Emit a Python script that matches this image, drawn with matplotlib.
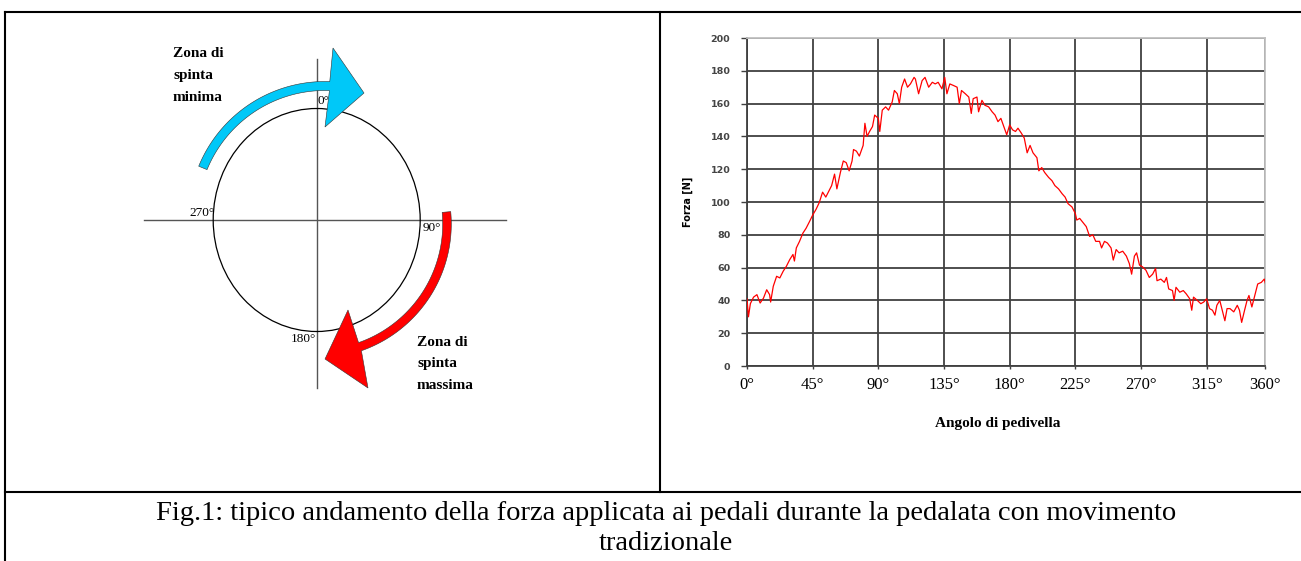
import numpy as np
import matplotlib
matplotlib.use("Agg")
import matplotlib.pyplot as plt
from matplotlib.patches import Ellipse, Polygon

# angolo di pedivella (gradi) e forza [N]
angolo = [0, 1, 2.3, 4.5, 6.8, 9, 11.3, 13.5, 15.5, 16.2, 18, 20.3, 22.5, 24.8, 27, 29.3,
          31.5, 32.5, 33.8, 36, 38.3, 40.5, 42.8, 45, 47.3, 49.5, 51.8, 54, 56.3,
          58, 60, 61.6, 64, 66, 68, 70, 72, 73, 75, 77, 79.6, 80.8, 82.3, 84, 86, 87.5,
          90, 91, 92.7, 95, 97, 99.5, 101, 103, 104.4, 106, 108, 110, 112, 114.5,
          115.4, 117.6, 120, 122, 124.5, 127, 129, 131, 133.6, 135.5, 137, 139, 141.6,
          144, 145.5, 147, 149.6, 152, 153.7, 155, 157.6, 158.7, 161, 163, 165.6, 168,
          170, 172, 174, 176, 178, 180, 182, 184, 185.7, 188, 190, 192, 194, 196, 198.7,
          200, 202, 204, 206.7, 209, 211, 213.5, 216, 218, 220, 222.7, 225, 226, 228,
          230.7, 232.5, 234.8, 237, 239, 241.6, 243, 245, 247, 249.5, 251, 253, 255,
          257.5, 260, 262, 263.6, 265.5, 267, 269, 271, 273.4, 275.7, 278, 280, 281,
          283.6, 286, 287.5, 289, 291.6, 292.7, 294, 296.6, 299, 301, 303.4, 304.8, 306,
          308.6, 311, 313, 315, 317, 319, 320.7, 322, 324, 325.7, 327.5, 329, 331, 333.6,
          336, 337.5, 339, 341, 342.7, 344, 346, 348, 350, 352.5, 354.5, 355.7]
forza = [41, 30, 38, 42, 43.5, 38.4, 41.4, 46.5, 43.5, 39, 48.6, 54.7, 53.7, 57.8, 60.8, 64.9,
         68, 64, 72, 76, 81, 84, 88, 92, 95.5, 99.6, 106, 103, 107,
         110, 117, 108, 118, 125, 124, 119, 125, 132, 131, 128, 134.5, 148, 140, 143, 146, 153,
         151, 143, 156, 158, 156, 161, 168, 166, 160, 170, 175, 170, 172, 176,
         175, 166, 174, 176, 170, 173, 172, 173, 169, 176, 166, 172, 171,
         170, 160, 168, 166, 164, 154, 163, 164, 155, 162, 159, 158, 155,
         153, 149, 151, 146, 141, 147, 144, 143, 145, 142, 139, 130, 134.5, 130, 127,
         119, 121, 118, 115, 113, 110, 108, 105, 103, 99, 97, 93, 89, 90,
         87, 85, 79, 80, 76, 76, 72, 76, 75, 72, 64.6, 71, 69,
         70, 67, 62.5, 56, 67, 69, 61.5, 60.5, 58.4, 54, 56, 59.5, 52,
         53, 51, 54, 47, 46, 40, 48, 45, 46, 44, 41, 34, 42,
         40, 38, 39, 41, 35, 34, 31, 37, 40, 34, 27.6, 35, 35, 33,
         37, 34, 26.6, 34, 40, 43, 36, 43, 50, 51, 53, 49]

tick_gradi = [0, 45, 90, 135, 180, 225, 270, 315, 355]
tick_etichette = ["0°", "45°", "90°", "135°", "180°", "225°", "270°", "315°", "360°"]
tick_forza = list(range(0, 201, 20))

W, H = 1301, 561
fig = plt.figure(figsize=(W / 100, H / 100), dpi=100)
fig.patch.set_facecolor("white")

# sfondo in coordinate pixel: bordi tabella, schema del pedale, didascalia
bg = fig.add_axes([0, 0, 1, 1])
bg.set_xlim(0, W)
bg.set_ylim(H, 0)
bg.axis("off")

lw_bordo = 1.5
bg.plot([5, W], [12, 12], color="black", lw=lw_bordo)
bg.plot([5, 5], [12, H], color="black", lw=lw_bordo)
bg.plot([660, 660], [12, 492], color="black", lw=lw_bordo)
bg.plot([5, W], [492, 492], color="black", lw=lw_bordo)

serif = "Liberation Serif"

# cerchio e assi
bg.plot([144, 506], [220, 220], color="#555555", lw=1, zorder=1)
bg.plot([317, 317], [59, 388], color="#555555", lw=1, zorder=1)
bg.add_patch(Ellipse((316.7, 220), 207, 223, fill=False, edgecolor="black", lw=0.9, zorder=2))


def freccia(cx, cy, r_in, r_out, a0, a1, testa, colore):
    t = np.radians(np.linspace(a0, a1, 60))
    est = np.column_stack([cx + r_out * np.cos(t), cy - r_out * np.sin(t)])
    inn = np.column_stack([cx + r_in * np.cos(t), cy - r_in * np.sin(t)])[::-1]
    pts = np.vstack([est, testa, inn])
    bg.add_patch(Polygon(pts, closed=True, facecolor=colore, edgecolor="#333333",
                         lw=0.4, zorder=3))


freccia(325, 218, 127.5, 136.5, 157.7, 88, [[333, 48], [364, 93], [325, 127]], "#00c8f8")
freccia(317, 224, 125.7, 134.3, 5.3, -70.7, [[368, 388], [325, 359], [348, 310]], "#ff0000")

bg.text(318, 101, "0°", fontsize=9.5, family=serif, va="center", ha="left", zorder=4)
bg.text(215, 213, "270°", fontsize=9.5, family=serif, va="center", ha="right", zorder=4)
bg.text(423, 228, "90°", fontsize=9.5, family=serif, va="center", ha="left", zorder=4)
bg.text(316, 339, "180°", fontsize=9.5, family=serif, va="center", ha="right", zorder=4)

for i, riga in enumerate(["Zona di", "spinta", "minima"]):
    bg.text(173, 53 + 22 * i, riga, fontsize=11, family=serif, weight="bold", va="center")
for i, riga in enumerate(["Zona di", "spinta", "massima"]):
    bg.text(417, 342 + 21.5 * i, riga, fontsize=11, family=serif, weight="bold", va="center")

bg.text(666, 513, "Fig.1: tipico andamento della forza applicata ai pedali durante la pedalata con movimento",
        fontsize=20.5, family=serif, ha="center", va="center")
bg.text(666, 543, "tradizionale", fontsize=20.5, family=serif, ha="center", va="center")

# grafico della forza
ax = fig.add_axes([747 / W, 1 - 366 / H, 518 / W, 328 / H])
ax.plot(angolo, forza, color="#ff0000", lw=0.9, zorder=3)
ax.set_xlim(0, 355)
ax.set_ylim(0, 200)
ax.set_xticks(tick_gradi)
ax.set_xticklabels(tick_etichette, family=serif, fontsize=12)
ax.set_yticks(tick_forza)
ax.set_yticklabels([str(v) for v in tick_forza], family="DejaVu Sans", fontsize=6.8,
                   weight="bold", color="#444444")
ax.grid(True, color="#404040", lw=1.3, zorder=1)
ax.tick_params(axis="y", length=4, width=1, color="#404040", pad=8)
ax.tick_params(axis="x", length=2, width=1, color="#404040", pad=6)
for lato in ["top", "right"]:
    ax.spines[lato].set_color("#c0c0c0")
    ax.spines[lato].set_linewidth(1.3)
for lato in ["left", "bottom"]:
    ax.spines[lato].set_color("#404040")
    ax.spines[lato].set_linewidth(1.3)

ax.set_xlabel("Angolo di pedivella", family=serif, weight="bold", fontsize=11)
ax.xaxis.set_label_coords(0.483, -0.155)
ax.set_ylabel("Forza [N]", family="DejaVu Sans", weight="bold", fontsize=7)
ax.yaxis.set_label_coords(-0.104, 0.5)

fig.savefig("out.png", dpi=100)
